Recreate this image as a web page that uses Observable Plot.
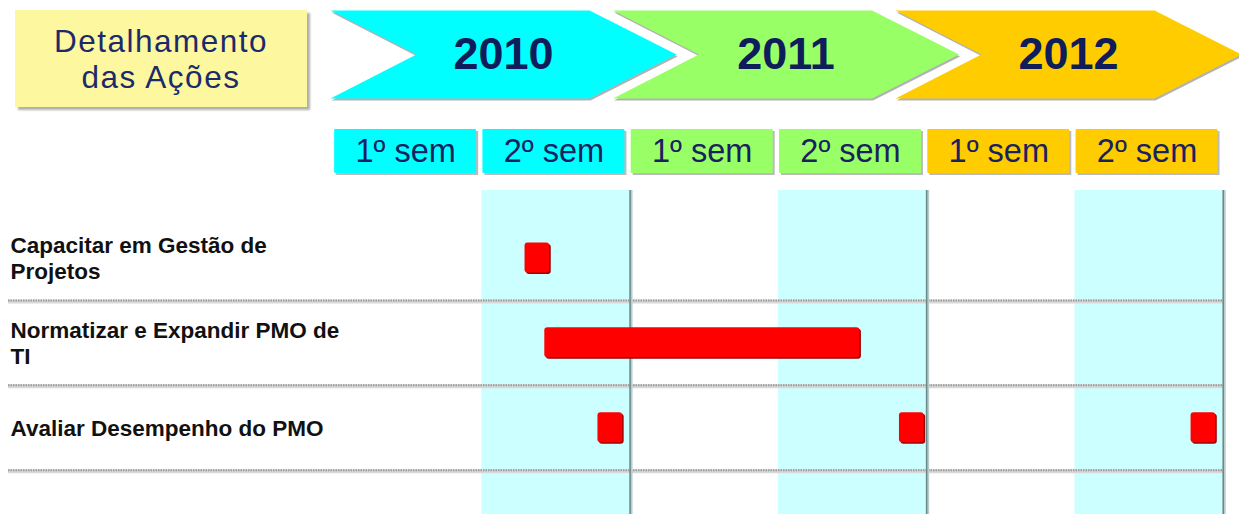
<!DOCTYPE html>
<html><head><meta charset="utf-8">
<script src="https://cdn.jsdelivr.net/npm/d3@7"></script>
<script src="https://cdn.jsdelivr.net/npm/@observablehq/plot@0.6"></script>
<style>
html,body{margin:0;padding:0;background:#fff;}
#wrap{position:relative;width:1239px;height:514px;overflow:hidden;font-family:"Liberation Sans",Arial,sans-serif;}
#wrap svg{display:block;max-width:none;}
#title{position:absolute;z-index:2;left:15px;top:10px;width:292px;height:97px;background:#fdf8a0;box-shadow:3px 3px 2px rgba(110,110,110,.55);display:flex;align-items:center;justify-content:center;text-align:center;color:#1c2a6b;font-size:31.5px;line-height:36px;letter-spacing:1.5px;}
</style></head><body>
<div id="wrap"><div id="title">Detalhamento<br>das Ações</div></div>
<script>
// ---- data ----
const years = ["2010", "2011", "2012"];
const semesterNames = ["1º sem", "2º sem"];
const tasks = ["Capacitar em Gestão de\nProjetos", "Normatizar e Expandir PMO de\nTI", "Avaliar Desempenho do PMO"];
// bars: task index, start / end in months since Jan 2010
const barTask  = [0, 1, 2, 2, 2];
const barStart = [7.75, 8.55, 10.7, 22.9, 34.7];
const barEnd   = [8.75, 21.3, 11.7, 23.9, 35.7];

// ---- derived tables ----
const yearColors = ["#00ffff", "#99ff66", "#ffcc00"];
const semesters = years.flatMap((yr, i) => semesterNames.map((s, j) => ({
  year: yr, label: s, start: i * 12 + j * 6, end: i * 12 + j * 6 + 6
})));
const bars = barTask.map((t, i) => ({task: t + 1, start: barStart[i], end: barEnd[i]}));

// chevron outline in "year" units (one unit = spacing between chevrons)
const chevronShape = [[0,0],[0.917,0],[1.225,0.5],[0.917,1],[0,1],[0.304,0.5],[0,0]];
const chevronPts = years.flatMap((yr, i) => chevronShape.map(([a, b]) => ({year: yr, x: i + a, y: b})));

const font = {fontFamily: "'Liberation Sans', Arial, sans-serif", background: "transparent"};
const wrap = document.getElementById("wrap");

// ---- header: year chevrons ----
const header = Plot.plot({
  width: 1239, height: 115,
  marginLeft: 330, marginRight: 61.5, marginTop: 10, marginBottom: 17,
  style: font,
  x: {domain: [0, 3], axis: null},
  y: {domain: [0, 1], axis: null},
  color: {domain: years, range: yearColors},
  marks: [
    Plot.line(chevronPts, {x: "x", y: "y", z: "year", fill: "#555", fillOpacity: 0.45, stroke: "none", dx: 1, dy: 2}),
    Plot.line(chevronPts, {x: "x", y: "y", z: "year", fill: "year", stroke: "none"}),
    Plot.text(years, {x: (d, i) => i + 1.225 / 2, y: 0.5, text: d => d, fontSize: 45, fontWeight: "bold", fill: "#0f1d5a"})
  ]
});
wrap.appendChild(header);

const xScale = {domain: [0, 36], range: [333, 1222.7], axis: null};
const mid = d => (d.start + d.end) / 2;

// ---- semester boxes ----
const sem = Plot.plot({
  width: 1239, height: 75,
  marginLeft: 8, marginRight: 14, marginTop: 14, marginBottom: 17,
  style: font,
  x: xScale,
  color: {domain: years, range: yearColors},
  marks: [
    Plot.rect(semesters, {x1: mid, x2: mid, insetLeft: -73, insetRight: -69, fill: "#777", fillOpacity: 0.5, dx: 2, dy: 2}),
    Plot.rect(semesters, {x1: mid, x2: mid, insetLeft: -73, insetRight: -69, fill: "year", rx: 1}),
    Plot.text(semesters, {x: mid, dx: -2, frameAnchor: "middle", text: "label", fontSize: 32.5, fill: "#1a2160"})
  ]
});
wrap.appendChild(sem);

// ---- gantt ----
const gantt = Plot.plot({
  width: 1239, height: 324,
  marginLeft: 8, marginRight: 14, marginTop: 0, marginBottom: 0,
  style: font,
  x: xScale,
  y: {domain: [0.206, 4.021], range: [0, 324], axis: null},
  marks: [
    Plot.rect(semesters.filter(d => d.label === semesterNames[1]), {x1: "start", x2: "end", fill: "#ccffff"}),
    Plot.ruleY(tasks.map((t, i) => i + 1.5), {stroke: "#d8d8d8", strokeWidth: 4, dy: 1}),
    Plot.ruleY(tasks.map((t, i) => i + 1.5), {stroke: "#9a9a9a", strokeWidth: 2, strokeDasharray: "1.5,1"}),
    Plot.ruleX(semesters.filter(d => d.label === semesterNames[1]), {x: "end", stroke: "#b9cccc", strokeWidth: 2, dx: 1.5}),
    Plot.ruleX(semesters.filter(d => d.label === semesterNames[1]), {x: "end", stroke: "#6a8a8a", strokeWidth: 1.6}),
    Plot.rect(bars, {x1: "start", x2: "end", y1: "task", y2: "task", insetTop: -15, insetBottom: -15, fill: "#9e0000", rx: 3, dx: 1.5, dy: 1.5}),
    Plot.rect(bars, {x1: "start", x2: "end", y1: "task", y2: "task", insetTop: -15, insetBottom: -15, fill: "#ff0000", rx: 3}),
    Plot.text(tasks, {y: (d, i) => i + 1, text: d => d, frameAnchor: "left", dx: 2, textAnchor: "start", fontSize: 22.5, fontWeight: "bold", lineHeight: 1.15, fill: "#111"})
  ]
});
wrap.appendChild(gantt);
</script>
</body></html>
